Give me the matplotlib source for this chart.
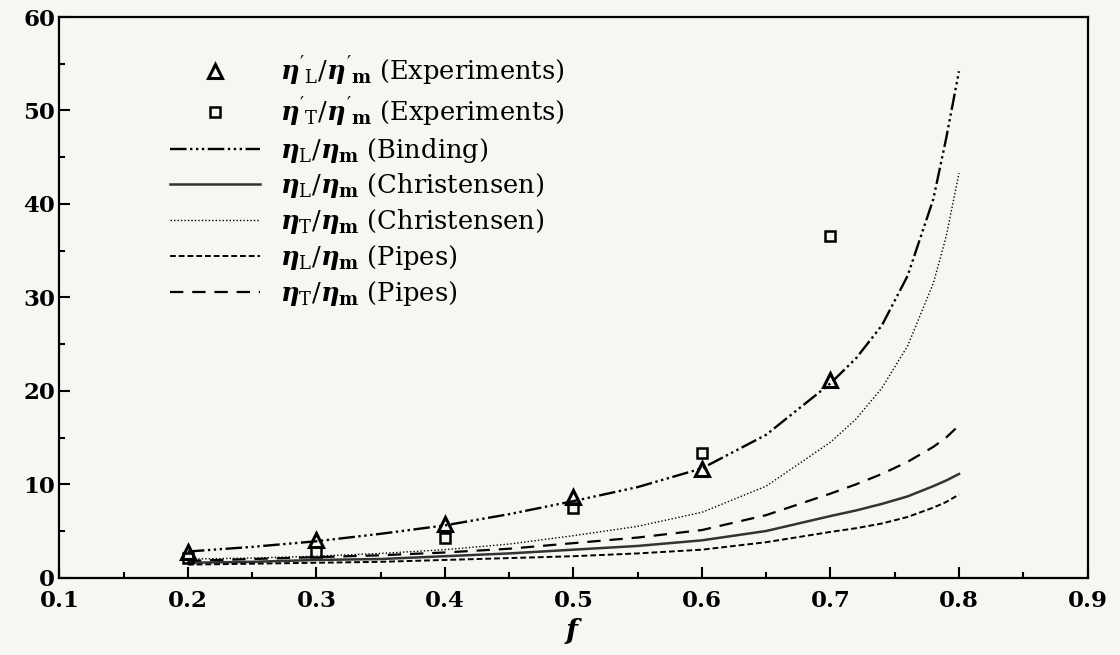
import matplotlib
matplotlib.use("Agg")
import matplotlib.pyplot as plt
from matplotlib.ticker import MultipleLocator

# ---- data ----
f_exp = [0.2, 0.3, 0.4, 0.5, 0.6, 0.7]
etaL_exp = [2.8, 4.0, 5.8, 8.6, 11.6, 21.2]
etaT_exp = [2.1, 2.8, 4.3, 7.5, 13.3, 36.6]

f_curve = [0.2, 0.25, 0.3, 0.35, 0.4, 0.45, 0.5, 0.55, 0.6, 0.65, 0.7,
           0.72, 0.74, 0.76, 0.78, 0.79, 0.8]
etaL_binding = [2.8, 3.3, 3.9, 4.7, 5.6, 6.8, 8.2, 9.7, 11.7, 15.3, 20.8,
                23.5, 27.0, 32.3, 40.5, 47.0, 54.2]
etaL_christensen = [1.6, 1.7, 1.9, 2.0, 2.3, 2.6, 3.0, 3.4, 4.0, 5.0, 6.6,
                    7.2, 7.9, 8.7, 9.8, 10.4, 11.1]
etaT_christensen = [2.0, 2.1, 2.3, 2.6, 3.0, 3.6, 4.5, 5.5, 7.0, 9.8, 14.5,
                    17.0, 20.3, 24.8, 31.5, 36.5, 43.3]
etaL_pipes = [1.4, 1.5, 1.6, 1.7, 1.9, 2.1, 2.3, 2.6, 3.0, 3.8, 4.9,
              5.3, 5.8, 6.5, 7.5, 8.1, 8.9]
etaT_pipes = [1.8, 2.0, 2.2, 2.4, 2.7, 3.1, 3.7, 4.3, 5.1, 6.7, 9.0,
              10.0, 11.1, 12.4, 14.0, 15.0, 16.3]

x_ticks = [0.1, 0.2, 0.3, 0.4, 0.5, 0.6, 0.7, 0.8, 0.9]
y_ticks = [0, 10, 20, 30, 40, 50, 60]

labels = [
    r"$\eta'_{\mathrm{L}}/\eta'_{\mathbf{m}}$ (Experiments)",
    r"$\eta'_{\mathrm{T}}/\eta'_{\mathbf{m}}$ (Experiments)",
    r"$\eta_{\mathrm{L}}/\eta_{\mathbf{m}}$ (Binding)",
    r"$\eta_{\mathrm{L}}/\eta_{\mathbf{m}}$ (Christensen)",
    r"$\eta_{\mathrm{T}}/\eta_{\mathbf{m}}$ (Christensen)",
    r"$\eta_{\mathrm{L}}/\eta_{\mathbf{m}}$ (Pipes)",
    r"$\eta_{\mathrm{T}}/\eta_{\mathbf{m}}$ (Pipes)",
]

plt.rcParams["font.family"] = ["DejaVu Serif"]
plt.rcParams["mathtext.fontset"] = "custom"
plt.rcParams["mathtext.rm"] = "DejaVu Serif"
plt.rcParams["mathtext.it"] = "DejaVu Serif:italic:bold"
plt.rcParams["mathtext.bf"] = "DejaVu Serif:bold"

bg = "#f8f6f3"
fig = plt.figure(figsize=(11.2, 6.55), dpi=100, facecolor=bg)
ax = fig.add_axes([0.053, 0.118, 0.918, 0.856], facecolor=bg)

ax.plot(f_exp, etaL_exp, linestyle="none", marker="^", markersize=10,
        markerfacecolor="none", markeredgecolor="black", markeredgewidth=2.2,
        label=labels[0], zorder=5)
ax.plot(f_exp, etaT_exp, linestyle="none", marker="s", markersize=7,
        markerfacecolor="none", markeredgecolor="black", markeredgewidth=1.8,
        label=labels[1], zorder=5)
ax.plot(f_curve, etaL_binding, color="black", lw=1.7,
        linestyle=(0, (7, 1.5, 1, 1.5, 1, 1.5, 1, 1.5)), label=labels[2])
ax.plot(f_curve, etaL_christensen, color="#333333", lw=1.8,
        linestyle="-", label=labels[3])
ax.plot(f_curve, etaT_christensen, color="black", lw=1.0,
        linestyle=(0, (1, 1.5)), label=labels[4])
ax.plot(f_curve, etaL_pipes, color="black", lw=1.4,
        linestyle=(0, (3, 1.5)), label=labels[5])
ax.plot(f_curve, etaT_pipes, color="black", lw=1.6,
        linestyle=(0, (6, 4)), label=labels[6])

ax.set_xlim(0.1, 0.9)
ax.set_ylim(0, 60)
ax.set_xticks(x_ticks)
ax.set_xticklabels([f"{v:.1f}" for v in x_ticks])
ax.set_yticks(y_ticks)
ax.set_yticklabels([str(v) for v in y_ticks])
ax.xaxis.set_minor_locator(MultipleLocator(0.05))
ax.yaxis.set_minor_locator(MultipleLocator(5))
ax.tick_params(which="both", direction="in", top=False, right=False,
               width=1.5, labelsize=16.5)
ax.tick_params(which="major", length=8)
ax.tick_params(which="minor", length=4)
for lab in ax.get_xticklabels() + ax.get_yticklabels():
    lab.set_fontweight("bold")
ax.tick_params(axis="x", pad=9)
ax.tick_params(axis="y", pad=3)
for s in ax.spines.values():
    s.set_linewidth(1.6)

ax.set_xlabel(r"$f$", fontsize=20, labelpad=3)

leg = ax.legend(loc="upper left", bbox_to_anchor=(0.09, 0.965),
                frameon=False, fontsize=18.5, handlelength=3.5,
                labelspacing=0.27, handletextpad=0.8, borderpad=0.2)

fig.savefig("out.png", dpi=100, facecolor=bg)
